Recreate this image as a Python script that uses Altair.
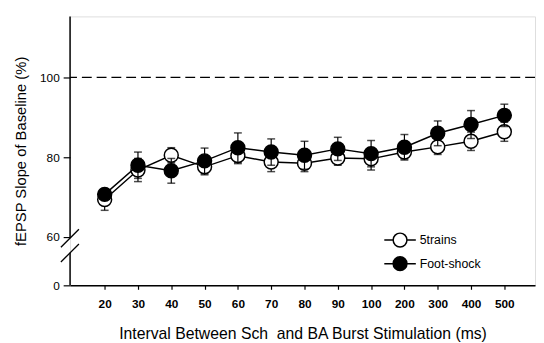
import altair as alt
import pandas as pd

# ---- data ----
cats = ["20", "30", "40", "50", "60", "70", "80", "90", "100", "200", "300", "400", "500"]
trains_mean = [69.4, 76.8, 80.5, 77.6, 80.4, 78.8, 78.5, 79.8, 79.6, 81.3, 82.6, 84.0, 86.4]
trains_sem = [2.7, 2.9, 1.9, 2.0, 2.0, 2.4, 2.1, 1.8, 2.8, 1.7, 1.9, 2.3, 2.4]
foot_mean = [70.7, 78.0, 76.6, 79.1, 82.4, 81.3, 80.5, 82.1, 80.9, 82.5, 86.0, 88.2, 90.5]
foot_sem = [1.2, 3.3, 3.1, 3.2, 3.7, 3.3, 3.5, 2.9, 3.3, 3.2, 3.1, 3.5, 2.8]
series_names = ["5trains", "Foot-shock"]
series_fill = ["white", "black"]
baseline = [100]

# broken y axis: the real value 0 is drawn at display value ZERO_POS
ZERO_POS = 47.9
Y_TOP = 115.3
y_tick_values = [ZERO_POS, 60, 80, 100]
axis_segments = pd.DataFrame({"lo": [ZERO_POS, 59.75], "hi": [56.05, Y_TOP]})
break_marks = pd.DataFrame({"y1": [57.45, 53.75], "y2": [61.97, 58.27]})

FONT = "Liberation Sans"


def make_df(means, sems, name):
    return pd.DataFrame({
        "cat": cats,
        "mean": means,
        "lo": [m - s for m, s in zip(means, sems)],
        "hi": [m + s for m, s in zip(means, sems)],
        "series": name,
    })


df_tr = make_df(trains_mean, trains_sem, series_names[0])
df_fs = make_df(foot_mean, foot_sem, series_names[1])

x_axis = alt.Axis(
    title="Interval Between Sch\u00a0 and BA Burst Stimulation (ms)",
    labelFontWeight="bold", labelFontSize=12, labelPadding=10,
    tickSize=4, tickColor="black", tickWidth=1.2,
    domainColor="black", domainWidth=1.5,
    titleFontSize=16, titleFontWeight="normal", titlePadding=16,
    labelAngle=0, grid=False,
)
x_enc = alt.X("cat:N", sort=cats,
              scale=alt.Scale(type="point", padding=0.98, align=0.53),
              axis=x_axis)

y_axis = alt.Axis(
    title="fEPSP Slope of Baseline (%)",
    values=y_tick_values,
    labelExpr="datum.value < 50 ? '0' : format(datum.value, 'd')",
    labelFontSize=12, labelPadding=4,
    tickSize=7, tickColor="black", tickWidth=1.2,
    domain=False, grid=False,
    titleFontSize=15, titleFontWeight="normal", titlePadding=11,
)
y_scale = alt.Scale(domain=[ZERO_POS, Y_TOP], nice=False, zero=False)


def Y(field):
    return alt.Y(field, scale=y_scale, axis=y_axis)


sym_path = ("M-2,0L-0.875,0M0.875,0L2,0"
            "M-0.875,0A0.875,0.875,0,1,0,0.875,0A0.875,0.875,0,1,0,-0.875,0Z")

fill_enc = alt.Fill(
    "series:N",
    scale=alt.Scale(domain=series_names, range=series_fill),
    legend=alt.Legend(
        title=None, orient="none", legendX=326, legendY=218,
        symbolType=sym_path, symbolSize=256,
        symbolStrokeColor="black", symbolStrokeWidth=1.5,
        labelFontSize=12.5, labelOffset=11, rowPadding=4, padding=0,
        labelFont=FONT, labelColor="black",
    ),
)


def series_layers(df):
    base = alt.Chart(df)
    bars = base.mark_rule(color="black", strokeWidth=1.2).encode(x=x_enc, y=Y("lo:Q"), y2="hi:Q")
    caps_lo = base.mark_tick(color="black", thickness=1.5, size=8).encode(x=x_enc, y=Y("lo:Q"))
    caps_hi = base.mark_tick(color="black", thickness=1.5, size=8).encode(x=x_enc, y=Y("hi:Q"))
    line = base.mark_line(color="black", strokeWidth=1.5).encode(x=x_enc, y=Y("mean:Q"))
    pts = base.mark_point(filled=True, size=200, stroke="black", strokeWidth=1.5, opacity=1).encode(
        x=x_enc, y=Y("mean:Q"), fill=fill_enc)
    return [bars, caps_lo, caps_hi, line, pts]


dash = alt.Chart(pd.DataFrame({"v": baseline})).mark_rule(
    color="black", strokeWidth=1.2, strokeDash=[10, 5]).encode(y=Y("v:Q"))

yline = alt.Chart(axis_segments).mark_rule(color="black", strokeWidth=1.5).encode(
    x=alt.value(0), y=Y("lo:Q"), y2="hi:Q")

slashes = alt.Chart(break_marks).mark_rule(color="black", strokeWidth=1.3).encode(
    x=alt.value(-9.3), x2=alt.value(9), y=Y("y1:Q"), y2="y2:Q")

chart = alt.layer(
    dash, yline, slashes, *series_layers(df_tr), *series_layers(df_fs)
).properties(
    width=472, height=273,
    autosize=alt.AutoSizeParams(type="none"),
    padding={"left": 63, "top": 6, "right": 1, "bottom": 56},
).configure_view(stroke=None).configure(
    font=FONT,
).configure_axis(labelColor="black", titleColor="black", labelFont=FONT, titleFont=FONT)

chart.save("out.html", embed_options={"renderer": "svg", "actions": False})
